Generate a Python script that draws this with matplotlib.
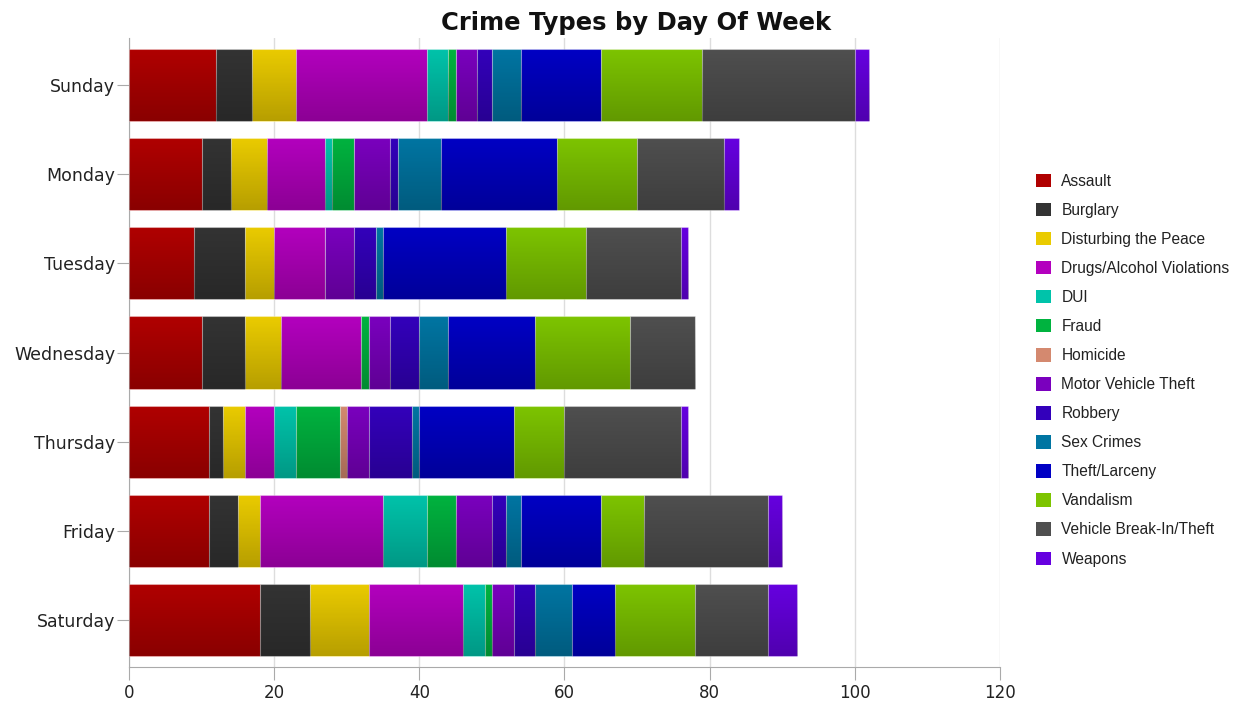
import matplotlib

matplotlib.use("Agg")
import matplotlib.pyplot as plt
import numpy as np
from matplotlib.patches import Patch


DAYS = ["Sunday", "Monday", "Tuesday", "Wednesday", "Thursday", "Friday", "Saturday"]

CRIME_TYPES = [
    "Assault", "Burglary", "Disturbing the Peace", "Drugs/Alcohol Violations",
    "DUI", "Fraud", "Homicide", "Motor Vehicle Theft", "Robbery", "Sex Crimes",
    "Theft/Larceny", "Vandalism", "Vehicle Break-In/Theft", "Weapons",
]

# counts per day, Sunday..Saturday
assault = [12, 10, 9, 10, 11, 11, 18]
burglary = [5, 4, 7, 6, 2, 4, 7]
disturbing = [6, 5, 4, 5, 3, 3, 8]
drugs = [18, 8, 7, 11, 4, 17, 13]
dui = [3, 1, 0, 0, 3, 6, 3]
fraud = [1, 3, 0, 1, 6, 4, 1]
homicide = [0, 0, 0, 0, 1, 0, 0]
motor_vehicle = [3, 5, 4, 3, 3, 5, 3]
robbery = [2, 1, 3, 4, 6, 2, 3]
sex_crimes = [4, 6, 1, 4, 1, 2, 5]
theft = [11, 16, 17, 12, 13, 11, 6]
vandalism = [14, 11, 11, 13, 7, 6, 11]
vehicle_breakin = [21, 12, 13, 9, 16, 17, 10]
weapons = [2, 2, 1, 0, 1, 2, 4]

SERIES = [assault, burglary, disturbing, drugs, dui, fraud, homicide,
          motor_vehicle, robbery, sex_crimes, theft, vandalism,
          vehicle_breakin, weapons]

COLORS = ["#B00000", "#333333", "#EACB00", "#B300BE", "#00C3AA", "#00B33F",
          "#D4896F", "#7A00BE", "#3300BB", "#0075A2", "#0000C4", "#7DC400",
          "#4F4F4F", "#6600E0"]

BAR_H = 0.81

fig = plt.figure(figsize=(12.54, 7.13), dpi=100)
ax = fig.add_axes([0.1029, 0.0645, 0.6945, 0.8822])

y = np.arange(len(DAYS))
left = np.zeros(len(DAYS))
shade = np.zeros((64, 1, 4))
shade[:, 0, 3] = np.linspace(0.0, 0.22, 64)

for vals, color in zip(SERIES, COLORS):
    vals = np.array(vals, dtype=float)
    bars = ax.barh(y, vals, left=left, height=BAR_H, color=color,
                   edgecolor=(1, 1, 1, 0.3), linewidth=0.8, zorder=3)
    # darker toward the bottom of each segment
    for rect in bars:
        if rect.get_width() <= 0:
            continue
        x0, y0 = rect.get_x(), rect.get_y()
        im = ax.imshow(shade, extent=(x0, x0 + rect.get_width(), y0 + rect.get_height(), y0),
                       origin="upper", aspect="auto", zorder=3.5, interpolation="bilinear")
        im.set_clip_path(rect)
    left += vals

ax.set_xlim(0, 120)
ax.set_ylim(6.53, -0.53)
ax.set_xticks(range(0, 121, 20))
ax.set_yticks(y, DAYS)
ax.grid(axis="x", color="#dddddd", linewidth=1, zorder=0)
ax.set_axisbelow(True)

for side in ["top", "right"]:
    ax.spines[side].set_visible(False)
for side in ["left", "bottom"]:
    ax.spines[side].set_color("#aaaaaa")
ax.tick_params(axis="both", colors="#aaaaaa", labelcolor="#222222", labelsize=12, length=9)
ax.tick_params(axis="y", pad=1, labelsize=12.5)

fig.text(0.507, 0.968, "Crime Types by Day Of Week", ha="center", va="center",
         fontsize=17.5, fontweight="bold", color="#111111")

handles = [Patch(facecolor=c, edgecolor="none") for c in COLORS]
fig.legend(handles, CRIME_TYPES, loc="upper left", bbox_to_anchor=(1028 / 1254, (713 - 166) / 713),
           frameon=False, prop={"family": "Liberation Sans", "size": 11.2},
           handlelength=0.95, handleheight=0.95, handletextpad=0.7, labelspacing=0.9,
           borderpad=0, labelcolor="#222222")

fig.savefig("out.png", dpi=100)
